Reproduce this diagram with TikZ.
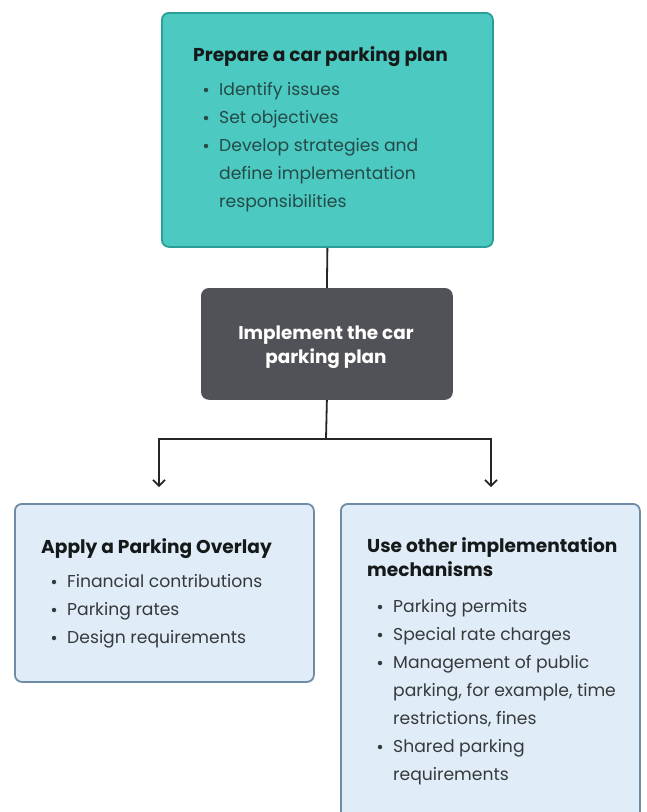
\documentclass[tikz,border=0pt]{standalone}
\usepackage{fontspec}
\setmainfont{Poppins}
\usetikzlibrary{arrows.meta}
\definecolor{tealfill}{HTML}{4CC9C1}
\definecolor{tealdraw}{HTML}{2A9E97}
\definecolor{darkbox}{HTML}{505257}
\definecolor{bluefill}{HTML}{E0ECF7}
\definecolor{bluedraw}{HTML}{6F8CA6}
\definecolor{txt}{HTML}{363A3C}
\definecolor{txtteal}{HTML}{254A47}
\definecolor{ttl}{HTML}{161919}
\tikzset{
  x=1pt,y=1pt,
  box/.style={rounded corners=7pt, line width=1.8pt, inner sep=0pt, anchor=north west},
  conn/.style={line width=1.8pt, draw=black!85},
  ttlstyle/.style={anchor=base west, inner sep=0pt, font=\fontsize{18.6}{24}\selectfont\bfseries, text=ttl},
  item/.style={anchor=base west, inner sep=0pt, font=\fontsize{17.2}{28}\selectfont, text=txt},
  dot/.style={circle, fill=txt, inner sep=0pt, minimum size=4.5pt},
}
\begin{document}
\begin{tikzpicture}
\useasboundingbox (0,0) rectangle (646,-812);
\clip (0,0) rectangle (646,-812);
% boxes
\node[box, fill=tealfill, draw=tealdraw, minimum width=331pt, minimum height=234pt] (plan) at (161,-12) {};
\node[box, fill=darkbox, draw=darkbox, minimum width=250pt, minimum height=110pt] (impl) at (201,-288) {};
\node[box, fill=bluefill, draw=bluedraw, minimum width=299pt, minimum height=178pt] (overlay) at (14,-503) {};
\node[box, fill=bluefill, draw=bluedraw, minimum width=299pt, minimum height=340pt] (other) at (340,-503) {};
% connectors
\coordinate (split) at (326,-439);
\coordinate (lt) at (159,-439);
\coordinate (rt) at (491,-439);
\coordinate (la) at (159,-487);
\coordinate (ra) at (491,-487);
\draw[conn] (plan.south) -- (impl.north);
\draw[conn] (impl.south) -- (split);
\draw[conn, -{Straight Barb[length=6pt,width=12pt,line width=1.6pt]}] (split) -- (lt) -- (la);
\draw[conn, -{Straight Barb[length=6pt,width=12pt,line width=1.6pt]}] (split) -- (rt) -- (ra);
% top box text
\node[ttlstyle] (t1) at (193,-61) {Prepare a car parking plan};
\foreach \y/\t/\n in {95/Identify issues/a1, 123/Set objectives/a2, 151/Develop strategies and/a3}{
  \node[dot, fill=txtteal] (d\n) at (206,-\y+5) {};
  \node[item, text=txtteal] (\n) at (219,-\y) {\t};
}
\node[item, text=txtteal] (a4) at (219,-179) {define implementation};
\node[item, text=txtteal] (a5) at (219,-207) {responsibilities};
% middle
\node[anchor=base, inner sep=0pt, text=white, font=\fontsize{18.4}{24}\selectfont\bfseries] (t2a) at (326,-339) {Implement the car};
\node[anchor=base, inner sep=0pt, text=white, font=\fontsize{18.4}{24}\selectfont\bfseries] (t2b) at (326,-363) {parking plan};
% left box
\node[ttlstyle] (t3) at (41,-553) {Apply a Parking Overlay};
\foreach \y/\t/\n in {587/Financial contributions/b1, 615/Parking rates/b2, 643/Design requirements/b3}{
  \node[dot] (d\n) at (54,-\y+5) {};
  \node[item] (\n) at (67,-\y) {\t};
}
% right box
\node[ttlstyle] (t4) at (367,-552) {Use other implementation};
\node[ttlstyle] (t5) at (367,-576) {mechanisms};
\foreach \y/\t/\n in {612/Parking permits/c1, 640/Special rate charges/c2, 668/Management of public/c3, 752/Shared parking/c6}{
  \node[dot] (d\n) at (380,-\y+5) {};
  \node[item] (\n) at (393,-\y) {\t};
}
\node[item] (c4) at (393,-696) {parking, for example, time};
\node[item] (c5) at (393,-724) {restrictions, fines};
\node[item] (c7) at (393,-780) {requirements};
\end{tikzpicture}
\end{document}
